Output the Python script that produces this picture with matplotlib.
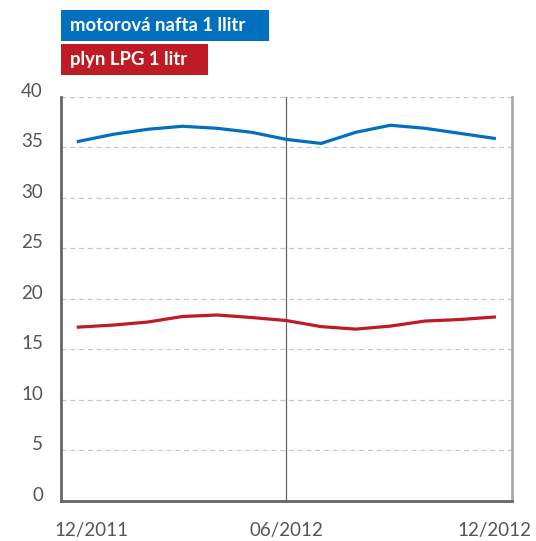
import matplotlib
matplotlib.use("Agg")
import matplotlib.pyplot as plt
from matplotlib.patches import Rectangle

# monthly prices 12/2011 .. 12/2012 (CZK per litre)
months = ["12/2011", "01/2012", "02/2012", "03/2012", "04/2012", "05/2012", "06/2012",
          "07/2012", "08/2012", "09/2012", "10/2012", "11/2012", "12/2012"]
nafta = [35.6, 36.3, 36.8, 37.1, 36.9, 36.5, 35.8, 35.4, 36.5, 37.2, 36.9, 36.4, 35.9]
lpg = [17.2, 17.4, 17.7, 18.25, 18.4, 18.15, 17.85, 17.25, 17.0, 17.3, 17.8, 17.95, 18.2]

series_names = ["motorová nafta 1 llitr", "plyn LPG 1 litr"]
tick_months = ["12/2011", "06/2012", "12/2012"]
yticks = [0, 5, 10, 15, 20, 25, 30, 35, 40]

blue = "#0070BF"
red = "#BE1B24"
grey_txt = "#555555"

plt.rcParams['font.family'] = ['Lato', 'DejaVu Sans']

fig = plt.figure(figsize=(5.36, 5.41), dpi=100)
ax = fig.add_axes([61 / 536, 40.3 / 541, 450.7 / 536, 403.7 / 541])

x = list(range(len(months)))
ax.plot(x, nafta, color=blue, lw=2.3, solid_joinstyle='round', zorder=3)
ax.plot(x, lpg, color=red, lw=2.3, solid_joinstyle='round', zorder=3)

# vertical divider at mid-year
ax.axvline(months.index("06/2012"), color="#666666", lw=0.9, zorder=2)

ax.set_xlim(-0.5, len(months) - 0.5)
ax.set_ylim(0, 40)
ax.set_yticks(yticks)
ax.set_yticklabels([str(v) for v in yticks])
ax.yaxis.grid(True, color="#c8c8c8", ls=(0, (4, 3)), lw=0.9)
ax.set_axisbelow(True)

tick_pos = [months.index(m) for m in tick_months]
tick_pos[0] += 0.38
ax.set_xticks(tick_pos)
ax.set_xticklabels(tick_months)

ax.tick_params(axis='both', length=0, colors=grey_txt, labelsize=13.5)
ax.tick_params(axis='y', pad=13)
ax.tick_params(axis='x', pad=15)
for t in ax.get_yticklabels():
    t.set_verticalalignment('baseline')

ax.spines['top'].set_visible(False)
ax.spines['left'].set_color("#666666")
ax.spines['left'].set_linewidth(2)
ax.spines['bottom'].set_color("#666666")
ax.spines['bottom'].set_linewidth(2)
ax.spines['right'].set_color("#aaaaaa")
ax.spines['right'].set_linewidth(2)

# legend boxes at the top
boxes = [(blue, 10, 269), (red, 44, 208)]
for name, (col, top, right) in zip(series_names, boxes):
    fig.patches.append(Rectangle((61 / 536, 1 - (top + 31) / 541), (right - 61) / 536, 31 / 541,
                                 transform=fig.transFigure, color=col, lw=0))
    fig.text(70 / 536, 1 - (top + 15.5) / 541, name, color="white", fontsize=13.3,
             fontweight='bold', va='center', ha='left')

fig.savefig("out.png", dpi=100)
